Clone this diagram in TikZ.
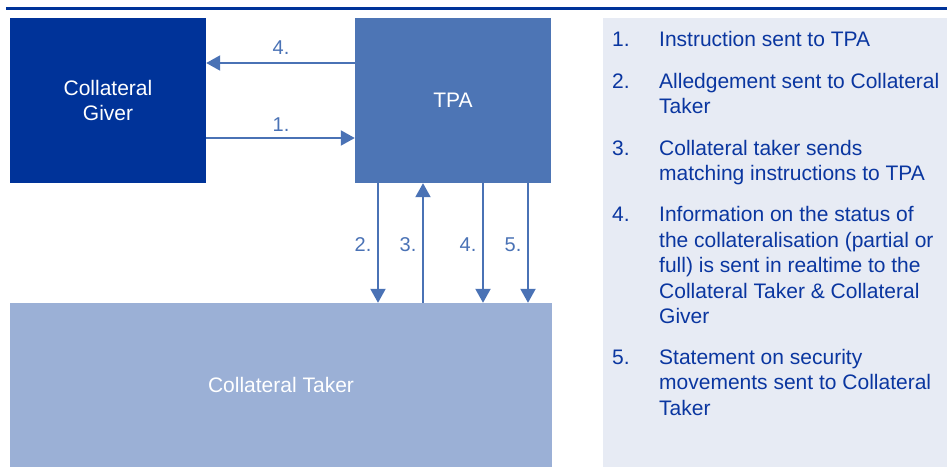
\documentclass[tikz,border=0pt]{standalone}
\usepackage{fontspec}
\setmainfont{Liberation Sans}
\usetikzlibrary{arrows.meta}
\definecolor{darkblue}{HTML}{003399}
\definecolor{midblue}{HTML}{4D75B5}
\definecolor{lightblue}{HTML}{9BB0D6}
\definecolor{panelbg}{HTML}{E7EBF4}
\definecolor{paneltext}{HTML}{0A36A0}
\definecolor{arrowblue}{HTML}{4A72B5}
\tikzset{
  box/.style={rectangle, inner sep=0pt, draw=none, text=white, align=center,
    font=\fontsize{21}{25.5}\selectfont},
  arr/.style={draw=arrowblue, line width=2pt, -{Triangle[width=15pt,length=14pt]}},
  numlabel/.style={inner sep=0pt, text=arrowblue, font=\fontsize{20}{24}\selectfont},
  itemnum/.style={inner sep=0pt, anchor=base west, text=paneltext, font=\fontsize{21}{25.5}\selectfont},
}
\newcommand{\itemtext}[1]{\parbox[t]{290pt}{\raggedright\fontsize{21}{25.5}\selectfont #1}}
\begin{document}
\begin{tikzpicture}[x=1pt,y=-1pt]
\useasboundingbox (0,0) rectangle (947,469);
% top rule
\coordinate (ruleL) at (6,8.5);
\coordinate (ruleR) at (947,8.5);
\draw[darkblue, line width=2.5pt] (ruleL) -- (ruleR);
% right panel
\node[rectangle, fill=panelbg, inner sep=0pt, minimum width=344pt, minimum height=449pt] (panel) at (775,242.5) {};
% boxes
\node[box, fill=darkblue, minimum width=196pt, minimum height=165pt] (giver) at (108,100.5) {Collateral\\Giver};
\node[box, fill=midblue, minimum width=196pt, minimum height=165pt] (tpa) at (453,100.5) {TPA};
\node[box, fill=lightblue, minimum width=542pt, minimum height=164pt] (taker) at (281,385) {Collateral Taker};
% horizontal arrows
\draw[arr] (tpa.west |- 0,63) -- (giver.east |- 0,63);
\draw[arr] (giver.east |- 0,138) -- (tpa.west |- 0,138);
\node[numlabel] (l4h) at (281,48) {4.};
\node[numlabel] (l1h) at (281,125) {1.};
% vertical arrows
\draw[arr] (tpa.south -| 378,0) -- (taker.north -| 378,0);
\draw[arr] (taker.north -| 423,0) -- (tpa.south -| 423,0);
\draw[arr] (tpa.south -| 483,0) -- (taker.north -| 483,0);
\draw[arr] (tpa.south -| 528,0) -- (taker.north -| 528,0);
\node[numlabel] (l2v) at (363,245) {2.};
\node[numlabel] (l3v) at (408,245) {3.};
\node[numlabel] (l4v) at (468,245) {4.};
\node[numlabel] (l5v) at (513,245) {5.};
% list
\node[itemnum] (n1) at (612,46) {1.};
\node[itemnum] (t1) at (659,46) {\itemtext{Instruction sent to TPA}};
\node[itemnum] (n2) at (612,88.3) {2.};
\node[itemnum] (t2) at (659,88.3) {\itemtext{Alledgement sent to Collateral\\Taker}};
\node[itemnum] (n3) at (612,155) {3.};
\node[itemnum] (t3) at (659,155) {\itemtext{Collateral taker sends\\matching instructions to TPA}};
\node[itemnum] (n4) at (612,221.7) {4.};
\node[itemnum] (t4) at (659,221.7) {\itemtext{Information on the status of\\the collateralisation (partial or\\full) is sent in realtime to the\\Collateral Taker \& Collateral\\Giver}};
\node[itemnum] (n5) at (612,364.3) {5.};
\node[itemnum] (t5) at (659,364.3) {\itemtext{Statement on security\\movements sent to Collateral\\Taker}};
\end{tikzpicture}
\end{document}
